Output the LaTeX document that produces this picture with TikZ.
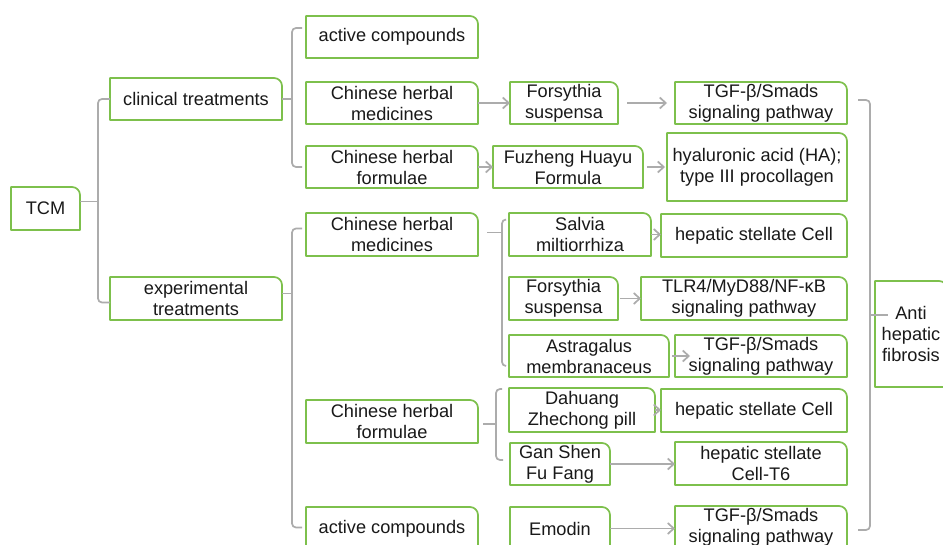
\documentclass[tikz,border=0pt]{standalone}
\usepackage{fontspec}
\setmainfont{Liberation Sans}
\usetikzlibrary{arrows.meta}
\definecolor{grn}{RGB}{125,192,76}
\definecolor{gry}{RGB}{172,172,172}
\definecolor{txt}{RGB}{25,25,25}
\tikzset{
 boxtext/.style={inner sep=0pt, outer sep=0pt, align=center, text=txt, font=\fontsize{18.2}{21}\selectfont},
 frame/.style={draw=grn, line width=1.7pt, line join=round},
 conn/.style={draw=gry, line width=1.7pt, rounded corners=4pt},
 arr/.style={draw=gry, line width=1.7pt, -{Straight Barb[length=6pt,width=11pt]}},
}
\newcommand\frm[1]{\draw[frame] (#1.south west) -- (#1.north west) -- ([xshift=-8pt]#1.north east) arc[start angle=90,end angle=0,radius=8pt] -- (#1.south east) -- cycle;}
\newcommand\bx[6]{\node[boxtext, minimum width={#4-#2}, minimum height={#5-#3}] (#1) at ({(#2+#4)/2},{(#3+#5)/2}) {#6};\frm{#1}}
\begin{document}
\begin{tikzpicture}[x=1pt,y=-1pt]
\useasboundingbox (0,0) rectangle (943,545);
\fill[white] (0,0) rectangle (943,545);
\clip (0,0) rectangle (943,545);
% boxes
\bx{tcm}{11}{187}{80}{230}{TCM}
\bx{clin}{110}{78}{282}{120}{clinical treatments}
\bx{exp}{110}{277}{282}{320}{experimental\\treatments}
\bx{ac1}{306}{16}{478}{58}{active compounds}
\bx{chm1}{306}{82}{478}{124}{Chinese herbal\\medicines}
\bx{chf1}{306}{146}{478}{188}{Chinese herbal\\formulae}
\bx{chm2}{306}{213}{478}{256}{Chinese herbal\\medicines}
\bx{chf2}{306}{400}{478}{443}{Chinese herbal\\formulae}
\bx{ac2}{306}{507}{478}{550}{active compounds}
\bx{fs1}{510}{82}{618}{124}{Forsythia\\suspensa}
\bx{fh}{493}{146}{643}{188}{Fuzheng Huayu\\Formula}
\bx{tgf1}{675}{82}{847}{124}{TGF-β/Smads\\signaling pathway}
\bx{ha}{667}{133}{847}{201}{hyaluronic acid (HA);\\type III procollagen}
\bx{sm}{509}{213}{651}{256}{Salvia\\miltiorrhiza}
\bx{hsc1}{661}{214}{847}{257}{hepatic stellate Cell}
\bx{fs2}{509}{277}{618}{320}{Forsythia\\suspensa}
\bx{tlr}{641}{277}{847}{320}{TLR4/MyD88/NF-κB\\signaling pathway}
\bx{am}{509}{335}{669}{377}{Astragalus\\membranaceus}
\bx{tgf2}{675}{335}{847}{377}{TGF-β/Smads\\signaling pathway}
\bx{dz}{509}{388}{655}{432}{Dahuang\\Zhechong pill}
\bx{hsc2}{661}{389}{847}{432}{hepatic stellate Cell}
\bx{gs}{510}{443}{610}{485}{Gan Shen\\Fu Fang}
\bx{t6}{675}{442}{847}{485}{hepatic stellate\\Cell-T6}
\bx{em}{510}{507}{610}{550}{Emodin}
\bx{tgf3}{675}{506}{847}{549}{TGF-β/Smads\\signaling pathway}
\bx{anti}{875}{281}{947}{387}{Anti\\hepatic\\fibrosis}
% bracket spines
\coordinate (s0) at (98,0);
\coordinate (s1) at (292,0);
\coordinate (s3) at (502,0);
\coordinate (s4) at (496,0);
\coordinate (s5) at (870,0);
% TCM bracket
\coordinate (c0) at ([yshift=7pt]tcm.east);
\coordinate (b0) at ([yshift=-4pt]exp.west);
\draw[conn] (clin.west) -| (s0 |- c0) |- (b0);
\draw[conn] (c0) -- (s0 |- c0);
% clinical bracket
\coordinate (t1) at ([xshift=-4pt,yshift=9pt]ac1.west);
\coordinate (b1) at ([xshift=-4pt]chf1.west);
\draw[conn] (t1) -| (s1 |- b1) -- (b1);
\draw[conn] (clin.east) -- (s1 |- clin.east);
% experimental bracket
\coordinate (t2) at ([xshift=-4pt,yshift=6pt]chm2.west);
\coordinate (b2) at ([xshift=-4pt,yshift=1pt]ac2.west);
\coordinate (c2) at ([yshift=5pt]exp.east);
\draw[conn] (t2) -| (s1 |- b2) -- (b2);
\draw[conn] (c2) -- (s1 |- c2);
% chm2 bracket
\coordinate (t3) at ([xshift=-3pt,yshift=15pt]sm.west);
\coordinate (b3) at ([xshift=-3pt,yshift=-10pt]am.west);
\coordinate (c3) at ([xshift=9pt,yshift=2pt]chm2.east);
\draw[conn] (t3) -| (s3 |- b3) -- (b3);
\draw[conn] (c3) -- (s3 |- c3);
% chf2 bracket
\coordinate (t4) at ([xshift=-7pt,yshift=21pt]dz.west);
\coordinate (b4) at ([xshift=-7pt,yshift=4pt]gs.west);
\coordinate (c4) at ([xshift=5pt,yshift=-2.5pt]chf2.east);
\draw[conn] (t4) -| (s4 |- b4) -- (b4);
\draw[conn] (c4) -- (s4 |- c4);
% right bracket
\coordinate (t5) at ([xshift=11pt,yshift=3pt]tgf1.east);
\coordinate (b5) at ([xshift=11pt,yshift=-2.5pt]tgf3.east);
\coordinate (c5) at ([xshift=13pt,yshift=19pt]anti.west);
\draw[conn] (t5) -| (s5 |- b5) -- (b5);
\draw[conn] (s5 |- c5) -- (c5);
% arrows
\draw[arr] (chm1.east) -- (fs1.west);
\draw[arr] (chf1.east) -- (fh.west);
\draw[arr, shorten <=9pt, shorten >=8pt] (fs1.east) -- (tgf1.west);
\draw[arr, shorten <=4pt, shorten >=2pt] (fh.east) -- (ha.west);
\draw[arr] (sm.east) -- (sm.east -| hsc1.west);
\draw[arr, shorten <=2pt] (fs2.east) -- (tlr.west);
\draw[arr, shorten <=3pt] (am.east) -- ([xshift=15pt]tgf2.west);
\draw[arr] (dz.east) -- (dz.east -| hsc2.west);
\draw[arr] (gs.east) -- (gs.east -| t6.west);
\draw[arr] (em.east) -- (em.east -| tgf3.west);
\end{tikzpicture}
\end{document}
